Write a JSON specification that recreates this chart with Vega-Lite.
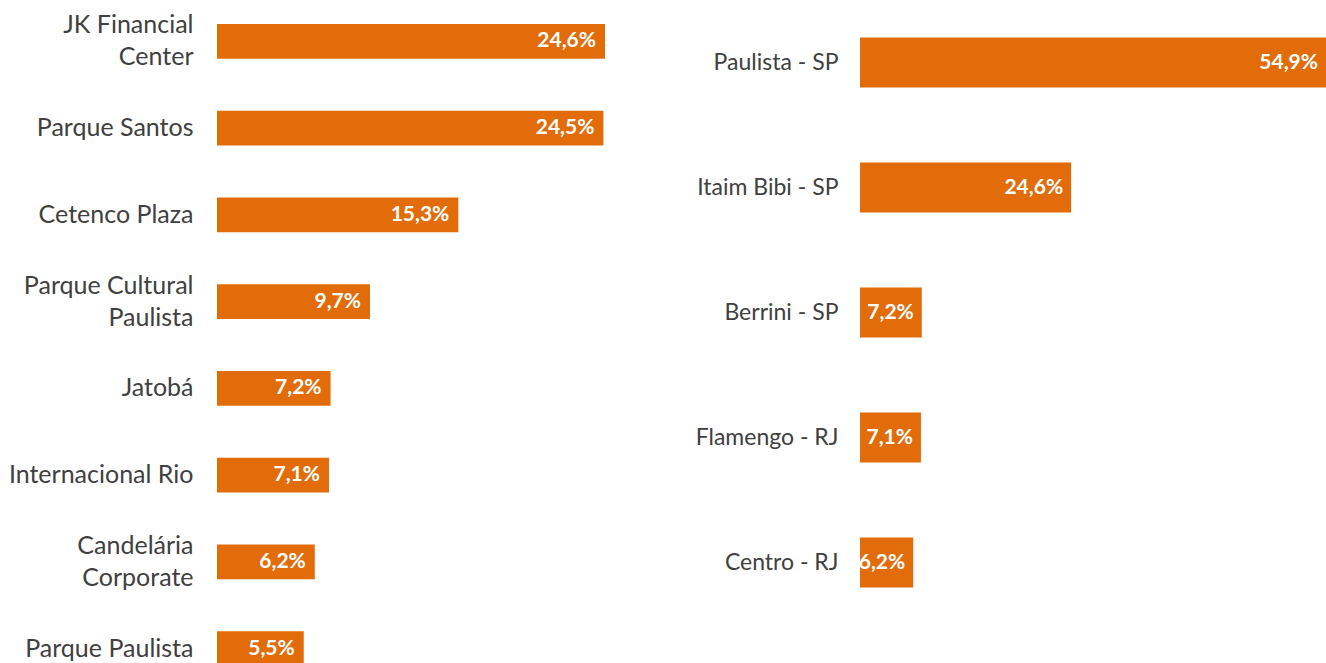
{
  "$schema": "https://vega.github.io/schema/vega-lite/v6.json",
  "padding": 0,
  "background": "white",
  "config": {
    "locale": {"number": {"decimal": ",", "thousands": ".", "grouping": [3], "currency": ["R$", ""]}},
    "view": {"stroke": null},
    "font": "Lato"
  },
  "spacing": 55,
  "hconcat": [
    {
      "width": 388,
      "height": 663,
      "data": {"values": [
        {"empreendimento": "JK Financial|Center", "participacao": 0.246},
        {"empreendimento": "Parque Santos", "participacao": 0.245},
        {"empreendimento": "Cetenco Plaza", "participacao": 0.153},
        {"empreendimento": "Parque Cultural|Paulista", "participacao": 0.097},
        {"empreendimento": "Jatobá", "participacao": 0.072},
        {"empreendimento": "Internacional Rio", "participacao": 0.071},
        {"empreendimento": "Candelária|Corporate", "participacao": 0.062},
        {"empreendimento": "Parque Paulista", "participacao": 0.055}
      ]},
      "encoding": {
        "y": {
          "field": "empreendimento", "type": "nominal", "sort": null,
          "scale": {"range": [-2, 692], "paddingInner": 0.6, "paddingOuter": 0.3},
          "axis": {
            "title": null, "domain": false, "ticks": false, "labelPadding": 24,
            "labelFontSize": 25, "labelColor": "#404040", "labelFont": "Lato", "labelLimit": 0,
            "minExtent": 217, "maxExtent": 217,
            "labelExpr": "split(datum.label, '|')", "labelLineHeight": 32,
            "labelOffset": {"condition": {"test": "indexof(datum.value, '|') >= 0", "value": -16}, "value": 0}
          }
        },
        "x": {"field": "participacao", "type": "quantitative", "scale": {"domain": [0, 0.246], "nice": false, "zero": true}, "axis": null}
      },
      "layer": [
        {"mark": {"type": "bar", "color": "#E36C0A", "clip": true}},
        {"mark": {"type": "text", "align": "right", "baseline": "middle", "dx": -9, "color": "white", "fontWeight": "bold", "fontSize": 21, "clip": true},
         "encoding": {"text": {"field": "participacao", "type": "quantitative", "format": ".1%"}}}
      ]
    },
    {
      "width": 466,
      "height": 625,
      "data": {"values": [
        {"regiao": "Paulista - SP", "participacao": 0.549},
        {"regiao": "Itaim Bibi - SP", "participacao": 0.246},
        {"regiao": "Berrini - SP", "participacao": 0.072},
        {"regiao": "Flamengo - RJ", "participacao": 0.071},
        {"regiao": "Centro - RJ", "participacao": 0.062}
      ]},
      "encoding": {
        "y": {
          "field": "regiao", "type": "nominal", "sort": null,
          "scale": {"paddingInner": 0.6, "paddingOuter": 0.3},
          "axis": {"title": null, "domain": false, "ticks": false, "labelPadding": 22, "labelFontSize": 23, "labelColor": "#404040", "labelFont": "Lato", "labelLimit": 0, "minExtent": 200, "maxExtent": 200}
        },
        "x": {"field": "participacao", "type": "quantitative", "scale": {"domain": [0, 0.543], "nice": false, "zero": true, "clamp": true}, "axis": null}
      },
      "layer": [
        {"mark": {"type": "bar", "color": "#E36C0A", "clip": true}},
        {"mark": {"type": "text", "align": "right", "baseline": "middle", "dx": -8, "color": "white", "fontWeight": "bold", "fontSize": 21, "clip": true},
         "encoding": {"text": {"field": "participacao", "type": "quantitative", "format": ".1%"}}}
      ]
    }
  ]
}
